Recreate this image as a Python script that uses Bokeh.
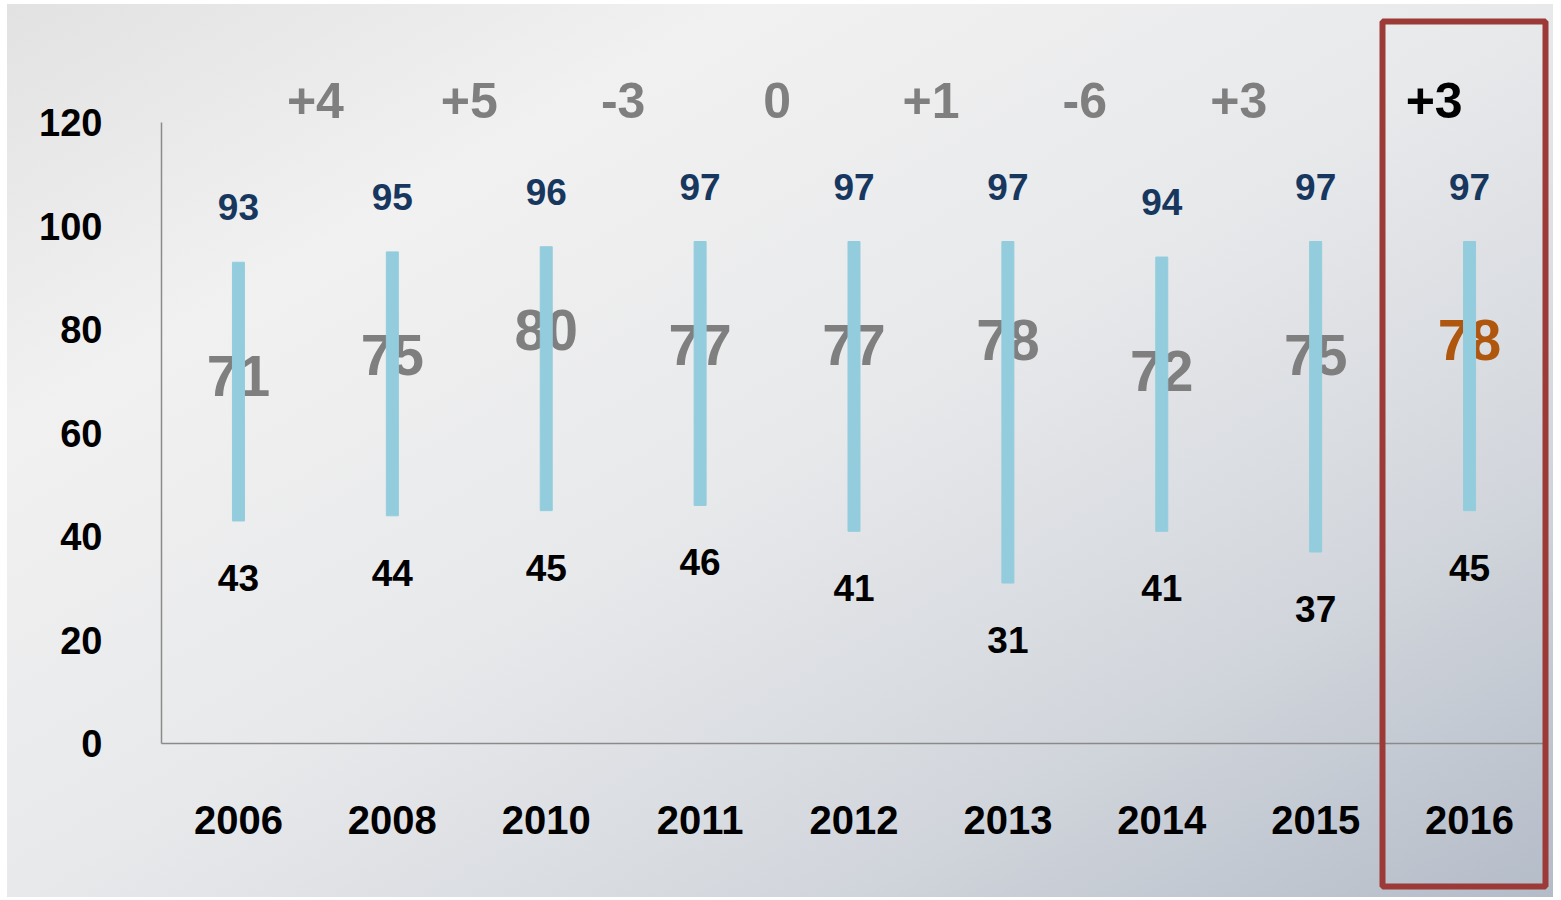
from bokeh.plotting import figure
from bokeh.models import Range1d, FixedTicker, ColumnDataSource, LabelSet, BoxAnnotation
from bokeh.core.properties import value
from bokeh.embed import file_html
from bokeh.resources import INLINE

# ---- data ----
years = ["2006", "2008", "2010", "2011", "2012", "2013", "2014", "2015", "2016"]
high = [93, 95, 96, 97, 97, 97, 94, 97, 97]
mean = [71, 75, 80, 77, 77, 78, 72, 75, 78]
low = [43, 44, 45, 46, 41, 31, 41, 37, 45]
diff_labels = ["+4", "+5", "-3", "0", "+1", "-6", "+3", "+3"]
y_ticks = [0, 20, 40, 60, 80, 100, 120]

# ---- styling ----
FONT = "Liberation Sans"
GRAY = "#7F7F7F"
NAVY = "#17375E"
BAR = "#93CDDD"
ORANGE = "#B0570F"
RED = "#9C3A38"
AXIS = "#8A8A8A"

W, H = 1546, 893
n = len(years)
xs = list(range(n))
last = n - 1

# layout (pixels inside the figure): plot area 154..1539 horizontally, 118..739 vertically
L, R, T, B = 154, 1539, 118, 739
px_per_x = (R - L) / n
px_per_y = (B - T) / 120.0
def dx_of(px):
    return -0.5 + (px - L) / px_per_x
def dy_of(py):
    return (B - py) / px_per_y

src = ColumnDataSource(dict(
    x=xs, high=high, low=low, mean=mean,
    hl=[str(v) for v in high],
    ll=[str(v) for v in low],
    ml=[str(v) for v in mean],
    mc=[ORANGE if i == last else GRAY for i in xs],
))

p = figure(width=W, height=H,
           x_range=Range1d(dx_of(0), dx_of(W)), y_range=Range1d(dy_of(H), dy_of(0)),
           output_backend="svg", toolbar_location=None,
           min_border_left=0, min_border_right=0,
           min_border_top=0, min_border_bottom=0)

p.background_fill_alpha = 0
p.border_fill_alpha = 0
p.outline_line_color = None
p.styles = {
    "background": "linear-gradient(to bottom right, #e2e2e2 0%, #f1f1f1 24%, #e8e9eb 50%, #d3d7dd 75%, #b4bcc8 100%)",
    "margin-left": "7px",
    "margin-top": "4px",
}
p.xgrid.visible = False
p.ygrid.visible = False

# mean labels (behind bars)
p.text(x="x", y="mean", text="ml", text_color="mc", source=src,
       text_font=value(FONT), text_font_style="bold", text_font_size="57px",
       text_align="center", text_baseline="middle")

# range bars
p.vbar(x="x", bottom="low", top="high", width=12 / px_per_x, color=BAR, source=src)

# high / low labels
p.text(x="x", y="high", text="hl", text_color=NAVY, source=src, y_offset=-55,
       text_font=value(FONT), text_font_style="bold", text_font_size="37px",
       text_align="center", text_baseline="middle")
p.text(x="x", y="low", text="ll", text_color="#000000", source=src, y_offset=57,
       text_font=value(FONT), text_font_style="bold", text_font_size="37px",
       text_align="center", text_baseline="middle")

# change labels between years
dxs = [i + 0.5 for i in range(n - 1)]
dxs[-1] = last - 0.23
dsrc = ColumnDataSource(dict(
    x=dxs, y=[dy_of(96)] * (n - 1), t=diff_labels,
    c=["#000000" if i == n - 2 else GRAY for i in range(n - 1)],
))
p.add_layout(LabelSet(x="x", y="y", text="t", text_color="c", source=dsrc,
                      text_font=value(FONT), text_font_style="bold", text_font_size="50px",
                      text_align="center", text_baseline="middle"))

# highlight box for the last year
p.add_layout(BoxAnnotation(left=dx_of(1375), right=dx_of(1538), top=dy_of(17), bottom=dy_of(882),
                           fill_alpha=0, line_color=RED, line_alpha=1, line_width=6))

# axes (fixed inside the plot area)
p.xaxis.ticker = FixedTicker(ticks=xs)
p.xaxis.major_label_overrides = {i: y for i, y in enumerate(years)}
p.xaxis.fixed_location = 0
p.xaxis.bounds = (-0.5, n - 0.5)
p.yaxis.ticker = FixedTicker(ticks=y_ticks)
p.yaxis.fixed_location = -0.5
p.yaxis.bounds = (0, 120)
for ax in (p.xaxis[0], p.yaxis[0]):
    ax.axis_line_color = AXIS
    ax.axis_line_width = 1.5
    ax.major_tick_in = 0
    ax.major_tick_out = 0
    ax.minor_tick_in = 0
    ax.minor_tick_out = 0
    ax.major_label_text_font = FONT
    ax.major_label_text_font_style = "bold"
    ax.major_label_text_color = "#000000"
p.xaxis.major_label_text_font_size = "40px"
p.yaxis.major_label_text_font_size = "38px"
p.xaxis.major_label_standoff = 62
p.yaxis.major_label_standoff = 59

open("out.html", "w").write(file_html(p, INLINE))
